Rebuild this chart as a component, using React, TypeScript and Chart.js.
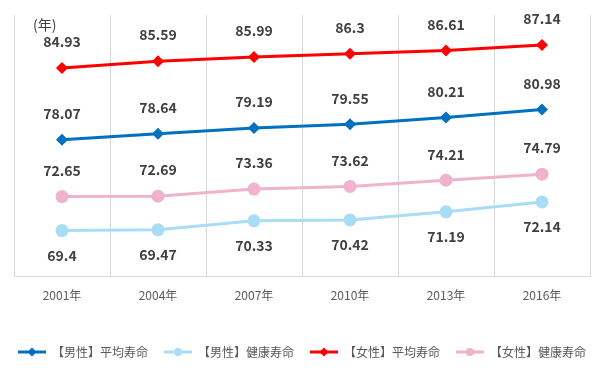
import React, { useEffect, useRef } from "react";
import { Chart, registerables } from "chart.js";

Chart.register(...registerables);

const categories = ["2001年", "2004年", "2007年", "2010年", "2013年", "2016年"];
const maleAvg = [78.07, 78.64, 79.19, 79.55, 80.21, 80.98];
const maleHealth = [69.4, 69.47, 70.33, 70.42, 71.19, 72.14];
const femaleAvg = [84.93, 85.59, 85.99, 86.3, 86.61, 87.14];
const femaleHealth = [72.65, 72.69, 73.36, 73.62, 74.21, 74.79];
const seriesNames = ["【男性】平均寿命", "【男性】健康寿命", "【女性】平均寿命", "【女性】健康寿命"];
const unitLabel = "(年)";

const FONT = "'Noto Sans CJK JP', 'Noto Sans', sans-serif";
const colors = ["#0070C0", "#A9DCF5", "#FF0000", "#EFB3CD"];
const styles = ["rectRot", "circle", "rectRot", "circle"];
const labelPos = ["above", "below", "above", "above"];

const labelPlugin = {
  id: "valueLabels",
  afterDatasetsDraw(chart: any) {
    const ctx = chart.ctx;
    ctx.save();
    ctx.font = `bold 14px ${FONT}`;
    ctx.fillStyle = "#404040";
    ctx.textAlign = "center";
    ctx.textBaseline = "middle";
    chart.data.datasets.forEach((ds: any, i: number) => {
      const meta = chart.getDatasetMeta(i);
      meta.data.forEach((pt: any, j: number) => {
        const off = labelPos[i] === "above" ? -26 : 25;
        ctx.fillText(String(ds.data[j]), pt.x, pt.y + off);
      });
    });
    ctx.font = `14px ${FONT}`;
    ctx.textAlign = "left";
    ctx.fillText(unitLabel, chart.chartArea.left + 19, chart.chartArea.top + 10);
    ctx.restore();
  },
  afterDraw(chart: any) {
    const ctx = chart.ctx;
    ctx.save();
    ctx.font = `12px ${FONT}`;
    ctx.textBaseline = "middle";
    const lineW = 28;
    const gapT = 6;
    const gapItem = 16;
    const widths = seriesNames.map((n) => lineW + gapT + ctx.measureText(n).width);
    const total = widths.reduce((a, b) => a + b, 0) + gapItem * (widths.length - 1);
    let x = (chart.width - total) / 2;
    const y = 352;
    seriesNames.forEach((n, i) => {
      ctx.strokeStyle = colors[i];
      ctx.lineWidth = 3;
      ctx.beginPath();
      ctx.moveTo(x, y);
      ctx.lineTo(x + lineW, y);
      ctx.stroke();
      ctx.fillStyle = colors[i];
      const cx = x + lineW / 2;
      ctx.beginPath();
      if (styles[i] === "circle") {
        ctx.arc(cx, y, 4, 0, Math.PI * 2);
      } else {
        ctx.moveTo(cx, y - 4.5);
        ctx.lineTo(cx + 4.5, y);
        ctx.lineTo(cx, y + 4.5);
        ctx.lineTo(cx - 4.5, y);
        ctx.closePath();
      }
      ctx.fill();
      ctx.fillStyle = "#595959";
      ctx.textAlign = "left";
      ctx.fillText(n, x + lineW + gapT, y);
      x += widths[i] + gapItem;
    });
    ctx.restore();
  },
};

export default function App() {
  const ref = useRef<HTMLCanvasElement>(null);
  useEffect(() => {
    const seriesData = [maleAvg, maleHealth, femaleAvg, femaleHealth];
    const chart = new Chart(ref.current!, {
      type: "line",
      data: {
        labels: categories,
        datasets: seriesData.map((d, i) => ({
          label: seriesNames[i],
          data: d,
          borderColor: colors[i],
          backgroundColor: colors[i],
          borderWidth: 3,
          pointStyle: styles[i] as any,
          pointRadius: styles[i] === "circle" ? 6.5 : 6,
          pointBorderWidth: 0,
          tension: 0,
        })),
      },
      options: {
        animation: false,
        responsive: false,
        maintainAspectRatio: false,
        layout: { padding: { left: 14, right: 14, top: 15, bottom: 63 } },
        plugins: { legend: { display: false }, tooltip: { enabled: false } },
        scales: {
          x: {
            offset: true,
            grid: { offset: true, color: "#D9D9D9", drawTicks: false, lineWidth: 1 },
            border: { display: true, color: "#D9D9D9" },
            ticks: { color: "#595959", font: { size: 12, family: FONT }, padding: 12 },
          },
          y: { display: false, min: 65, max: 90 },
        },
      },
      plugins: [labelPlugin],
    });
    return () => chart.destroy();
  }, []);
  return (
    <div style={{ position: "fixed", left: 0, top: 0, width: 604, height: 378, background: "#fff" }}>
      <canvas ref={ref} width={604} height={378} />
    </div>
  );
}
